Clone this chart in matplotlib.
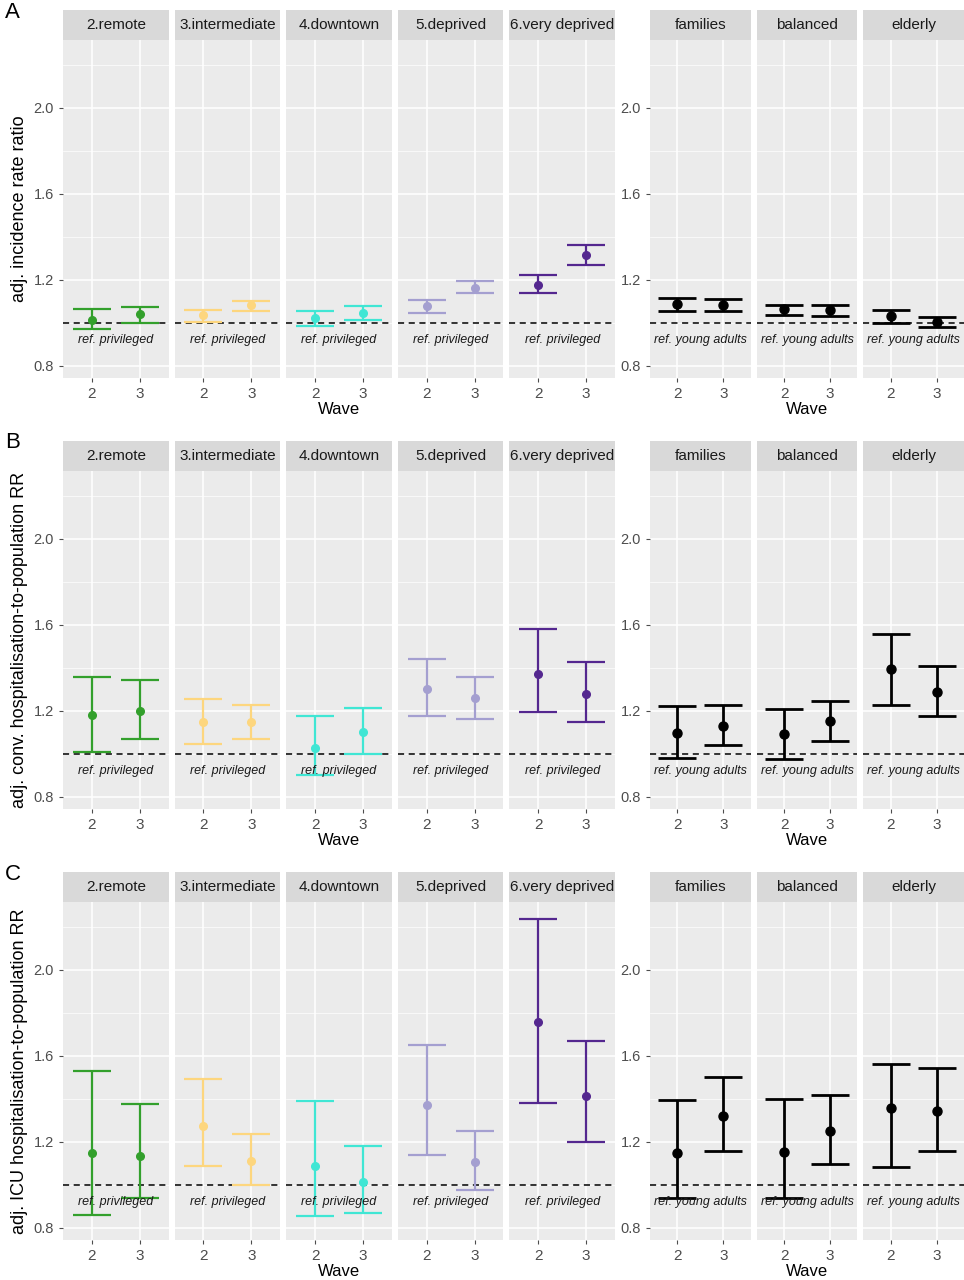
import numpy as np
import matplotlib
matplotlib.use("Agg")
import matplotlib.pyplot as plt
from matplotlib.patches import Rectangle

plt.rcParams['font.family'] = ['Liberation Sans', 'DejaVu Sans']

# facets
groups_left = ["2.remote", "3.intermediate", "4.downtown", "5.deprived", "6.very deprived"]
groups_right = ["families", "balanced", "elderly"]
waves = ["2", "3"]
colors = ["#33a02c", "#fdd67e", "#40e6d4", "#a49fd0", "#54278f", "black", "black", "black"]
ref_labels = ["ref. privileged"] * 5 + ["ref. young adults"] * 3

# (estimate, lower, upper) per facet, per wave
# A: incidence rate ratio
incid_est = [[1.014, 1.042], [1.037, 1.084], [1.023, 1.047], [1.079, 1.163], [1.177, 1.316],
             [1.088, 1.084], [1.065, 1.060], [1.033, 1.005]]
incid_lo = [[0.972, 1.000], [1.005, 1.056], [0.986, 1.014], [1.047, 1.140], [1.140, 1.270],
            [1.056, 1.056], [1.037, 1.033], [1.000, 0.981]]
incid_hi = [[1.065, 1.074], [1.060, 1.100], [1.056, 1.079], [1.107, 1.195], [1.223, 1.363],
            [1.116, 1.112], [1.084, 1.084], [1.060, 1.028]]
# B: conventional hospitalisation
hosp_est = [[1.179, 1.198], [1.147, 1.147], [1.026, 1.100], [1.300, 1.258], [1.374, 1.280],
            [1.096, 1.128], [1.091, 1.152], [1.393, 1.290]]
hosp_lo = [[1.008, 1.068], [1.045, 1.068], [0.900, 0.998], [1.175, 1.161], [1.193, 1.147],
           [0.980, 1.040], [0.975, 1.059], [1.230, 1.175]]
hosp_hi = [[1.360, 1.346], [1.254, 1.226], [1.175, 1.216], [1.440, 1.360], [1.583, 1.430],
           [1.221, 1.226], [1.207, 1.244], [1.560, 1.407]]
# C: ICU hospitalisation
icu_est = [[1.147, 1.137], [1.274, 1.110], [1.090, 1.015], [1.371, 1.106], [1.758, 1.415],
           [1.147, 1.323], [1.152, 1.249], [1.356, 1.342]]
icu_lo = [[0.862, 0.939], [1.086, 1.000], [0.857, 0.869], [1.141, 0.978], [1.382, 1.200],
          [0.938, 1.156], [0.938, 1.096], [1.082, 1.156]]
icu_hi = [[1.529, 1.378], [1.495, 1.237], [1.390, 1.183], [1.653, 1.253], [2.239, 1.668],
          [1.397, 1.504], [1.402, 1.420], [1.564, 1.546]]

rows = [("A", "adj. incidence rate ratio", incid_est, incid_lo, incid_hi),
        ("B", "adj. conv. hospitalisation-to-population RR", hosp_est, hosp_lo, hosp_hi),
        ("C", "adj. ICU hospitalisation-to-population RR", icu_est, icu_lo, icu_hi)]

W, H = 964, 1280
fig = plt.figure(figsize=(W / 100, H / 100), dpi=100)

# panel x extents in pixels
gap = 6
lw_ = (615 - 63 - 4 * gap) / 5
rw_ = (964 - 650 - 2 * gap) / 3
left_x = [(63 + k * (lw_ + gap), 63 + k * (lw_ + gap) + lw_) for k in range(5)]
right_x = [(650 + k * (rw_ + gap), 650 + k * (rw_ + gap) + rw_) for k in range(3)]
panel_x = left_x + right_x
row_top = [40, 471, 902]
panel_h = 338
strip_h = 30
grey_txt = "#4d4d4d"

for r, (letter, ylab, est, lo, hi) in enumerate(rows):
    top = row_top[r]
    fig.text(5 / W, 1 - (top - 28) / H, letter, fontsize=16, va="center", ha="left")
    for i, (x0, x1) in enumerate(panel_x):
        ax = fig.add_axes([x0 / W, 1 - (top + panel_h) / H, (x1 - x0) / W, panel_h / H])
        ax.set_facecolor("#ebebeb")
        for s in ax.spines.values():
            s.set_visible(False)
        ax.set_xlim(0.4, 2.6)
        ax.set_ylim(0.744, 2.316)
        for y in [0.8, 1.2, 1.6, 2.0]:
            ax.axhline(y, color="white", lw=1.1, zorder=0)
        for y in [1.0, 1.4, 1.8, 2.2]:
            ax.axhline(y, color="white", lw=0.5, zorder=0)
        for x in [1, 2]:
            ax.axvline(x, color="white", lw=1.1, zorder=0)
        ax.axhline(1.0, color="black", lw=1.1, ls=(0, (4, 3)), zorder=2)
        xs = np.array([1, 2])
        e = np.array(est[i]); l = np.array(lo[i]); h = np.array(hi[i])
        lwid = 2.0 if i >= 5 else 1.6
        ax.errorbar(xs, e, yerr=[e - l, h - e], fmt="o", color=colors[i], ms=6.5 if i >= 5 else 5.5,
                    capsize=14, capthick=lwid, elinewidth=lwid, zorder=3)
        ax.text(1.5, 0.92, ref_labels[i], style="italic", fontsize=9, ha="center", va="center",
                color="#1a1a1a", zorder=4)
        ax.set_xticks(xs)
        ax.set_xticklabels(waves)
        ax.tick_params(axis="x", length=3, color=grey_txt, labelcolor=grey_txt, labelsize=11)
        ax.set_yticks([0.8, 1.2, 1.6, 2.0])
        if i == 0 or i == 5:
            ax.set_yticklabels(["0.8", "1.2", "1.6", "2.0"])
            ax.tick_params(axis="y", length=3, color=grey_txt, labelcolor=grey_txt, labelsize=10.5)
        else:
            ax.tick_params(axis="y", length=0, labelleft=False)
        if i == 0:
            ax.set_ylabel(ylab, fontsize=13)
        if i == 2 or i == 6:
            ax.set_xlabel("Wave", fontsize=12, labelpad=1)
        # strip
        fig.patches.append(Rectangle((x0 / W, 1 - top / H), (x1 - x0) / W, strip_h / H,
                                     transform=fig.transFigure, facecolor="#d9d9d9",
                                     edgecolor="none", zorder=0))
        fig.text((x0 + x1) / 2 / W, 1 - (top - strip_h / 2) / H, (groups_left + groups_right)[i],
                 fontsize=11, color="#1a1a1a", ha="center", va="center")

fig.savefig("out.png", dpi=100)
